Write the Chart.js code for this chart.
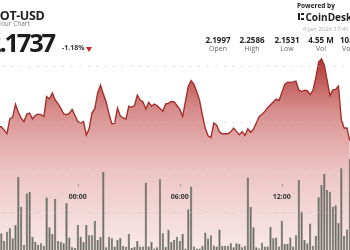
<!DOCTYPE html>
<html><head><meta charset="utf-8">
<script src="https://cdn.jsdelivr.net/npm/chart.js@4.4.0/dist/chart.umd.min.js"></script>
<style>
html,body{margin:0;padding:0;width:350px;height:250px;overflow:hidden;background:#fff;font-family:"Open Sans",sans-serif;}
#wrap{position:relative;width:350px;height:250px;overflow:hidden;}
canvas{position:absolute;left:0;top:0;}
.t{position:absolute;white-space:nowrap;line-height:1;z-index:2;}
.val{position:absolute;width:40px;text-align:center;font-weight:700;font-size:8px;color:#222;line-height:1;z-index:2;white-space:nowrap;}
.lab{position:absolute;width:40px;text-align:center;font-size:7px;color:#666;line-height:1;z-index:2;white-space:nowrap;}
</style></head><body>
<div id="wrap">
<canvas id="c" width="350" height="250"></canvas>
<div class="t" style="left:-9px;top:10.3px;font-size:12.5px;font-weight:700;color:#222;letter-spacing:-0.4px;">DOT-USD</div>
<div class="t" style="left:-13px;top:21.3px;font-size:6.5px;color:#777;">24 Hour Chart</div>
<div class="t" style="left:-13px;top:29.5px;font-size:25.5px;font-weight:700;color:#1d1d1d;letter-spacing:-2.2px;">2.1737</div>
<div class="t" style="left:62px;top:43.8px;font-size:7px;font-weight:700;color:#333;">-1.18%</div>
<div style="position:absolute;left:86px;top:47px;width:0;height:0;border-left:3px solid transparent;border-right:3px solid transparent;border-top:5px solid #c62828;z-index:2;"></div>
<div class="t" style="left:297px;top:2.7px;font-size:6.5px;font-weight:700;color:#222;">Powered by</div>
<div style="position:absolute;left:298px;top:13px;width:2px;height:7px;background:#222;z-index:2;"></div>
<div style="position:absolute;left:301px;top:13px;width:3px;height:2px;background:#222;z-index:2;"></div>
<div style="position:absolute;left:301px;top:18px;width:3px;height:2px;background:#222;z-index:2;"></div>
<div class="t" style="left:305.5px;top:12px;font-size:10px;font-weight:700;color:#222;">CoinDesk</div>
<div class="t" style="left:303px;top:25.7px;font-size:6px;color:#aaa;">6 Jan 2026 17:41</div>
<div id="stats"></div>
</div>
<script>
const startHour = -4.5;          // 19:30 previous day
const stepHour = 1/6;            // 10-minute candles
const xMin = -4.578, xMax = 16.011;
const prices = [2.1958,2.1927,2.1896,2.2027,2.2043,2.2158,2.2087,2.2035,2.2004,2.2071,
2.2080,2.2028,2.2060,2.2070,2.2066,2.2049,2.2227,2.2206,2.2259,2.2196,
2.2164,2.2122,2.2073,2.2065,2.2076,2.2113,2.2058,2.2003,2.1991,2.2004,
2.1884,2.1939,2.2080,2.2119,2.2259,2.2328,2.2250,2.2179,2.2071,2.1984,
2.1987,2.2123,2.2054,2.2036,2.2027,2.2141,2.2131,2.2146,2.2241,2.2196,
2.2179,2.2116,2.2176,2.2143,2.2159,2.2144,2.2120,2.2096,2.2161,2.2166,
2.2183,2.2179,2.2147,2.2112,2.2049,2.2187,2.2319,2.2370,2.2336,2.2268,
2.2191,2.2057,2.1941,2.1875,2.1862,2.1991,2.1971,2.1911,2.1895,2.1896,
2.1895,2.1912,2.1946,2.1914,2.1887,2.1914,2.1880,2.1939,2.1908,2.1936,
2.1991,2.2047,2.2070,2.2093,2.2128,2.2154,2.2179,2.2204,2.2192,2.2262,
2.2334,2.2355,2.2354,2.2358,2.2366,2.2286,2.2272,2.2284,2.2279,2.2246,
2.2283,2.2395,2.2536,2.2565,2.2506,2.2371,2.2236,2.2287,2.2291,2.2321,
2.2018,2.1947,2.1947,2.1832];
const volumes = [44,24,48,57,31,66,193,114,13,149,
153,35,22,14,18,11,138,60,42,134,
24,22,18,124,33,7,5,66,35,21,
66,39,39,76,26,34,206,7,35,31,
9,26,32,11,8,42,5,8,24,9,
9,177,9,22,4,7,186,44,8,53,
21,26,35,24,42,4,107,167,9,4,
4,11,46,30,39,12,9,54,11,11,
11,18,7,18,16,7,11,191,114,60,
7,4,19,9,9,61,31,33,9,77,
16,16,33,9,39,184,101,26,18,70,
11,37,139,171,200,158,153,114,118,72,
215,37,54,240];
const tickHours = [0, 6, 12];
const tickLabels = ['00:00', '06:00', '12:00'];
const priceGrid = [2.20, 2.25];
const volumeGrid = [100, 200];
const statValues = ['2.1997', '2.2586', '2.1531', '4.55 M', '10.01 M'];
const statLabels = ['Open', 'High', 'Low', 'Vol', 'Vol USD'];

const statCenters = [218, 252, 287, 321, 355];
const stats = document.getElementById('stats');
statValues.forEach((v, i) => {
  const a = document.createElement('div'); a.className = 'val'; a.textContent = v;
  a.style.left = (statCenters[i] - 20) + 'px'; a.style.top = '35.9px'; stats.appendChild(a);
  const b = document.createElement('div'); b.className = 'lab'; b.textContent = statLabels[i];
  b.style.left = (statCenters[i] - 20) + 'px'; b.style.top = '44.8px'; stats.appendChild(b);
});

const linePts = prices.map((p, i) => ({x: startHour + i * stepHour, y: p}));
linePts.unshift({x: startHour - stepHour, y: prices[0]});
const barPts = volumes.map((v, i) => ({x: startHour + i * stepHour, y: v}));

const overlay = {
  id: 'overlay',
  afterDatasetsDraw(chart) {
    const {ctx, chartArea: a, scales: {x, y, yv}} = chart;
    ctx.save();
    ctx.strokeStyle = 'rgba(195,195,195,0.9)';
    ctx.lineWidth = 1;
    ctx.setLineDash([1.2, 7.3]);
    const hl = (py) => { py = Math.round(py) + 0.5; ctx.beginPath(); ctx.moveTo(a.left + 3, py); ctx.lineTo(a.right, py); ctx.stroke(); };
    priceGrid.forEach(v => hl(y.getPixelForValue(v)));
    volumeGrid.forEach(v => hl(yv.getPixelForValue(v)));
    ctx.setLineDash([]);
    ctx.font = 'bold 7px "Open Sans"';
    ctx.textAlign = 'center';
    ctx.textBaseline = 'middle';
    tickHours.forEach((h, i) => {
      const px = x.getPixelForValue(h);
      ctx.strokeStyle = '#999';
      ctx.beginPath(); ctx.moveTo(Math.round(px) + 0.5, 184); ctx.lineTo(Math.round(px) + 0.5, 186.5); ctx.stroke();
      ctx.fillStyle = '#333';
      ctx.fillText(tickLabels[i], px, 196.5);
    });
    ctx.restore();
  }
};

new Chart(document.getElementById('c'), {
  data: {
    datasets: [
      {
        type: 'bar', data: barPts, yAxisID: 'yv', order: 0,
        backgroundColor: '#6c6f67', borderColor: '#4f524b', borderWidth: 0.5,
        barPercentage: 0.8, categoryPercentage: 1.0
      },
      {
        type: 'line', data: linePts, yAxisID: 'y', order: 1,
        borderColor: '#a3302b', borderWidth: 1.4, pointRadius: 0, tension: 0,
        fill: 'start',
        backgroundColor: (c) => {
          const {ctx, chartArea} = c.chart;
          if (!chartArea) return 'rgba(0,0,0,0)';
          const g = ctx.createLinearGradient(0, 55, 0, 250);
          g.addColorStop(0, 'rgba(165,38,35,0.95)');
          g.addColorStop(0.28, 'rgba(185,58,55,0.58)');
          g.addColorStop(0.59, 'rgba(198,78,75,0.33)');
          g.addColorStop(1, 'rgba(205,95,90,0.14)');
          return g;
        }
      }
    ]
  },
  options: {
    responsive: false, animation: false, devicePixelRatio: 1,
    layout: {padding: 0},
    plugins: {legend: {display: false}, tooltip: {enabled: false}},
    scales: {
      x: {type: 'linear', display: false, min: xMin, max: xMax, offset: false},
      y: {display: false, min: 2.08571, max: 2.30893},
      yv: {display: false, min: 0, max: 657.9}
    }
  },
  plugins: [overlay]
});
</script>
</body></html>
